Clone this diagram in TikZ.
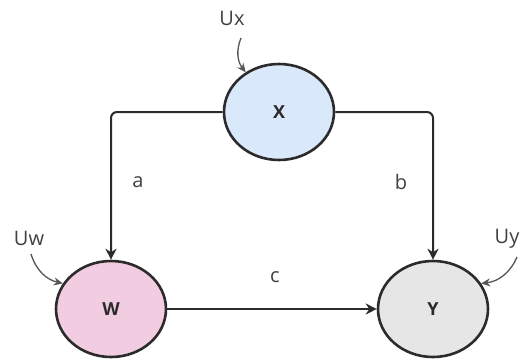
\documentclass[tikz,border=0pt]{standalone}
\usepackage{fontspec}
\setmainfont{Open Sans}
\usetikzlibrary{shapes.geometric,arrows.meta}
\definecolor{lc}{HTML}{2B2B2B}
\definecolor{xblue}{HTML}{DAE8FC}
\definecolor{wpink}{HTML}{F2CCE0}
\definecolor{ygray}{HTML}{E6E6E6}
\tikzset{
  var/.style={ellipse,draw=lc,line width=2.6pt,minimum width=110pt,minimum height=96pt,inner sep=0pt,font=\fontsize{18}{20}\selectfont\bfseries,text=lc},
  edge/.style={draw=lc,line width=2pt,rounded corners=6pt,-{Stealth[length=11pt,width=11pt]}},
  noise/.style={draw=lc!80,line width=1.3pt,-{Stealth[length=9pt,width=8pt]}},
  lbl/.style={font=\fontsize{20}{22}\selectfont,text=lc!90}
}
\begin{document}
\begin{tikzpicture}[x=1pt,y=-1pt]
\useasboundingbox (0,0) rectangle (526,361);
\node[var,fill=xblue] (X) at (279,112) {X};
\node[var,fill=wpink] (W) at (111,309) {W};
\node[var,fill=ygray] (Y) at (433,309) {Y};
\draw[edge] (X.west) -| (W.north);
\draw[edge] (X.east) -| (Y.north);
\draw[edge] (W.east) -- (Y.west);
\node[lbl] (la) at (138,182) {a};
\node[lbl] (lb) at (401,182) {b};
\node[lbl] (lc) at (275,277) {c};
\node[lbl] (Ux) at (232,18) {Ux};
\node[lbl] (Uw) at (29,238) {Uw};
\node[lbl] (Uy) at (507,239) {Uy};
\coordinate (ux0) at (241,38);
\coordinate (uw0) at (31,254);
\coordinate (uy0) at (517,257);
\draw[noise] (ux0) to[bend right=30] (X.130);
\draw[noise] (uw0) to[bend right=30] (W.152);
\draw[noise] (uy0) to[bend left=30] (Y.28);
\end{tikzpicture}
\end{document}
